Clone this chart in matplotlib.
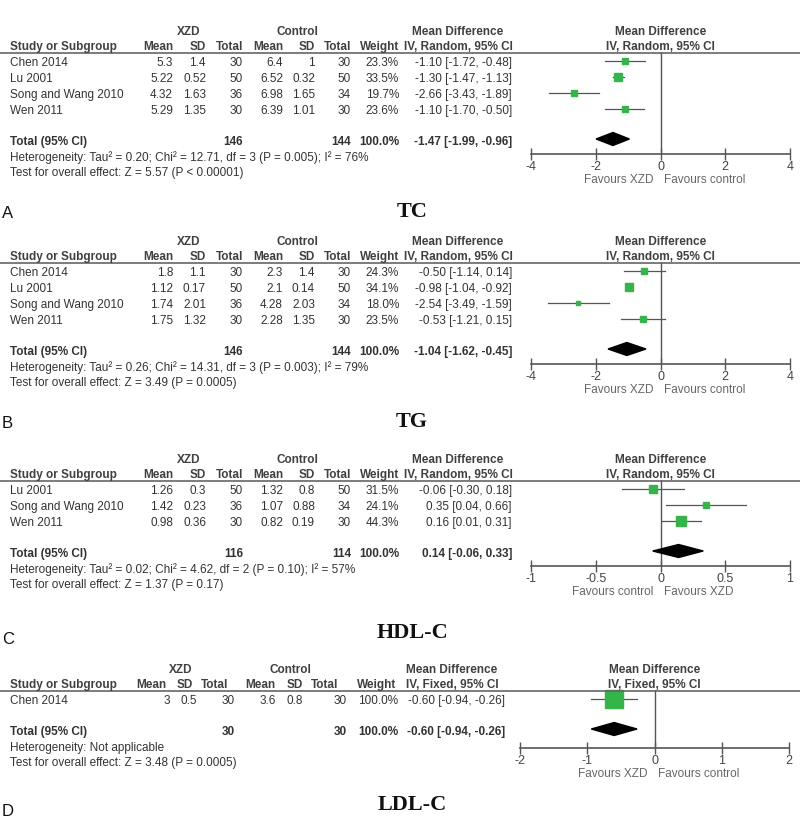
import matplotlib.pyplot as plt
from matplotlib.lines import Line2D
from matplotlib.patches import Polygon

plt.rcParams['font.family'] = ['Liberation Sans', 'DejaVu Sans']

# ---- data ----
# A: TC
tc_studies = ["Chen 2014", "Lu 2001", "Song and Wang 2010", "Wen 2011"]
tc_xzd_mean = [5.3, 5.22, 4.32, 5.29]
tc_xzd_sd = [1.4, 0.52, 1.63, 1.35]
tc_xzd_n = [30, 50, 36, 30]
tc_ctl_mean = [6.4, 6.52, 6.98, 6.39]
tc_ctl_sd = [1, 0.32, 1.65, 1.01]
tc_ctl_n = [30, 50, 34, 30]
tc_weight = [23.3, 33.5, 19.7, 23.6]
tc_md = [-1.10, -1.30, -2.66, -1.10]
tc_lo = [-1.72, -1.47, -3.43, -1.70]
tc_hi = [-0.48, -1.13, -1.89, -0.50]
tc_total = [146, 144, -1.47, -1.99, -0.96]
tc_het = "Heterogeneity: Tau² = 0.20; Chi² = 12.71, df = 3 (P = 0.005); I² = 76%"
tc_test = "Test for overall effect: Z = 5.57 (P < 0.00001)"

# B: TG
tg_studies = ["Chen 2014", "Lu 2001", "Song and Wang 2010", "Wen 2011"]
tg_xzd_mean = [1.8, 1.12, 1.74, 1.75]
tg_xzd_sd = [1.1, 0.17, 2.01, 1.32]
tg_xzd_n = [30, 50, 36, 30]
tg_ctl_mean = [2.3, 2.1, 4.28, 2.28]
tg_ctl_sd = [1.4, 0.14, 2.03, 1.35]
tg_ctl_n = [30, 50, 34, 30]
tg_weight = [24.3, 34.1, 18.0, 23.5]
tg_md = [-0.50, -0.98, -2.54, -0.53]
tg_lo = [-1.14, -1.04, -3.49, -1.21]
tg_hi = [0.14, -0.92, -1.59, 0.15]
tg_total = [146, 144, -1.04, -1.62, -0.45]
tg_het = "Heterogeneity: Tau² = 0.26; Chi² = 14.31, df = 3 (P = 0.003); I² = 79%"
tg_test = "Test for overall effect: Z = 3.49 (P = 0.0005)"

# C: HDL-C
hdl_studies = ["Lu 2001", "Song and Wang 2010", "Wen 2011"]
hdl_xzd_mean = [1.26, 1.42, 0.98]
hdl_xzd_sd = [0.3, 0.23, 0.36]
hdl_xzd_n = [50, 36, 30]
hdl_ctl_mean = [1.32, 1.07, 0.82]
hdl_ctl_sd = [0.8, 0.88, 0.19]
hdl_ctl_n = [50, 34, 30]
hdl_weight = [31.5, 24.1, 44.3]
hdl_md = [-0.06, 0.35, 0.16]
hdl_lo = [-0.30, 0.04, 0.01]
hdl_hi = [0.18, 0.66, 0.31]
hdl_total = [116, 114, 0.14, -0.06, 0.33]
hdl_het = "Heterogeneity: Tau² = 0.02; Chi² = 4.62, df = 2 (P = 0.10); I² = 57%"
hdl_test = "Test for overall effect: Z = 1.37 (P = 0.17)"

# D: LDL-C
ldl_studies = ["Chen 2014"]
ldl_xzd_mean = [3]
ldl_xzd_sd = [0.5]
ldl_xzd_n = [30]
ldl_ctl_mean = [3.6]
ldl_ctl_sd = [0.8]
ldl_ctl_n = [30]
ldl_weight = [100.0]
ldl_md = [-0.60]
ldl_lo = [-0.94]
ldl_hi = [-0.26]
ldl_total = [30, 30, -0.60, -0.94, -0.26]
ldl_het = "Heterogeneity: Not applicable"
ldl_test = "Test for overall effect: Z = 3.48 (P = 0.0005)"

tick_wide = [-4, -2, 0, 2, 4]
tick_hdl = [-1, -0.5, 0, 0.5, 1]
tick_ldl = [-2, -1, 0, 1, 2]

W, H = 800, 825
GREEN = '#33b54a'
TXT = '#333333'
HDR = '#404040'
GREY = '#555555'

fig = plt.figure(figsize=(8, 8.25), dpi=100)


def fx(x):
    return x / W


def fy(y):
    return 1 - y / H


def txt(x, y, s, ha='left', bold=False, color=TXT, size=8.5, family=None):
    fig.text(fx(x), fy(y), s, ha=ha, va='center', fontsize=size,
             fontweight='bold' if bold else 'normal', color=color,
             family=family)


def panel(letter, title, studies, m1, s1, n1, m2, s2, n2, wt, md, lo, hi,
          total, het, test, ticks, method, favours, lay):
    line_y = lay['line']
    cols = lay['cols']
    hcols = lay.get('hcols', cols)
    x0, x1 = lay['fx']
    axis_y = lay['axis']
    zero = x0 + (0 - ticks[0]) / (ticks[-1] - ticks[0]) * (x1 - x0)

    # header
    txt(lay['grp'][0], line_y - 20, "XZD", ha='center', bold=True, color=HDR)
    txt(lay['grp'][1], line_y - 20, "Control", ha='center', bold=True, color=HDR)
    txt(lay['grp'][2], line_y - 20, "Mean Difference", ha='center', bold=True, color=HDR)
    txt(zero, line_y - 20, "Mean Difference", ha='center', bold=True, color=HDR)
    txt(10, line_y - 5, "Study or Subgroup", bold=True, color=HDR)
    for c, h in zip(hcols[:7], ["Mean", "SD", "Total", "Mean", "SD", "Total", "Weight"]):
        txt(c, line_y - 5, h, ha='right', bold=True, color=HDR)
    txt(lay['grp'][2], line_y - 5, "IV, %s, 95%% CI" % method, ha='center', bold=True, color=HDR)
    txt(zero, line_y - 5, "IV, %s, 95%% CI" % method, ha='center', bold=True, color=HDR)
    fig.add_artist(Line2D([0, 1], [fy(line_y + 0.5)] * 2, color='#666666', lw=1.2))

    # forest axes, y in pixel rows
    ax = fig.add_axes([fx(x0), fy(axis_y), (x1 - x0) / W, (axis_y - line_y) / H])
    ax.set_xlim(ticks[0], ticks[-1])
    ax.set_ylim(axis_y, line_y)
    ax.patch.set_alpha(0)
    for s in ['top', 'left', 'right']:
        ax.spines[s].set_visible(False)
    ax.spines['bottom'].set_color(GREY)
    ax.spines['bottom'].set_linewidth(1.2)
    ax.set_yticks([])
    ax.set_xticks(ticks)
    ax.set_xticklabels(['%g' % t for t in ticks])
    ax.tick_params(axis='x', direction='inout', length=8, width=1, colors=GREY,
                   labelsize=9, labelcolor='#444444', pad=1)
    ax.axvline(0, color=GREY, lw=1)

    rows = [line_y + 11 + 16 * i for i in range(len(studies))]
    for i, y in enumerate(rows):
        vals = ['%g' % m1[i], '%g' % s1[i], '%d' % n1[i], '%g' % m2[i],
                '%g' % s2[i], '%d' % n2[i], '%.1f%%' % wt[i],
                '%.2f [%.2f, %.2f]' % (md[i], lo[i], hi[i])]
        txt(10, y, studies[i])
        for c, v in zip(cols, vals):
            txt(c, y, v, ha='right')
        ax.plot([lo[i], hi[i]], [y - 2, y - 2], color=GREY, lw=0.9, zorder=2)
        side = 2.0 + 0.165 * wt[i]
        ax.plot(md[i], y - 2, marker='s', ms=side * 0.72, color=GREEN,
                mec=GREEN, zorder=3, clip_on=False)

    ty = rows[-1] + 31
    txt(10, ty, "Total (95% CI)", bold=True)
    txt(cols[2], ty, '%d' % total[0], ha='right', bold=True)
    txt(cols[5], ty, '%d' % total[1], ha='right', bold=True)
    txt(cols[6], ty, "100.0%", ha='right', bold=True)
    txt(cols[7], ty, '%.2f [%.2f, %.2f]' % tuple(total[2:]), ha='right', bold=True)
    dy = ty - 3
    ax.add_patch(Polygon([[total[3], dy], [total[2], dy - 6.5], [total[4], dy],
                          [total[2], dy + 6.5]], closed=True, color='black', zorder=3))
    txt(10, ty + 16, het)
    txt(10, ty + 31, test)

    txt(zero - 7, axis_y + 26, favours[0], ha='right', color='#666666')
    txt(zero + 4, axis_y + 26, favours[1], ha='left', color='#666666')

    txt(2, lay['letter'], letter, size=12, color='#111111')
    txt(412, lay['title'], title, ha='center', bold=True, size=16, color='#111111',
        family=['Liberation Serif', 'DejaVu Serif'])


cols_abc = [173, 206, 243, 283, 315, 351, 399, 512]
cols_d = [170, 197, 235, 276, 303, 347, 398, 505]
hcols_d = [166, 193, 228, 275, 303, 338, 396]

panel("A", "TC", tc_studies, tc_xzd_mean, tc_xzd_sd, tc_xzd_n, tc_ctl_mean,
      tc_ctl_sd, tc_ctl_n, tc_weight, tc_md, tc_lo, tc_hi, tc_total, tc_het,
      tc_test, tick_wide, "Random", ("Favours XZD", "Favours control"),
      dict(line=52, axis=154, cols=cols_abc, grp=(189, 297, 458),
           fx=(531, 790), letter=213, title=212))
panel("B", "TG", tg_studies, tg_xzd_mean, tg_xzd_sd, tg_xzd_n, tg_ctl_mean,
      tg_ctl_sd, tg_ctl_n, tg_weight, tg_md, tg_lo, tg_hi, tg_total, tg_het,
      tg_test, tick_wide, "Random", ("Favours XZD", "Favours control"),
      dict(line=262, axis=364, cols=cols_abc, grp=(189, 297, 458),
           fx=(531, 790), letter=423, title=422))
panel("C", "HDL-C", hdl_studies, hdl_xzd_mean, hdl_xzd_sd, hdl_xzd_n,
      hdl_ctl_mean, hdl_ctl_sd, hdl_ctl_n, hdl_weight, hdl_md, hdl_lo, hdl_hi,
      hdl_total, hdl_het, hdl_test, tick_hdl, "Random",
      ("Favours control", "Favours XZD"),
      dict(line=480, axis=566, cols=cols_abc, grp=(189, 297, 458),
           fx=(531, 790), letter=639, title=633))
panel("D", "LDL-C", ldl_studies, ldl_xzd_mean, ldl_xzd_sd, ldl_xzd_n,
      ldl_ctl_mean, ldl_ctl_sd, ldl_ctl_n, ldl_weight, ldl_md, ldl_lo, ldl_hi,
      ldl_total, ldl_het, ldl_test, tick_ldl, "Fixed",
      ("Favours XZD", "Favours control"),
      dict(line=690, axis=748, cols=cols_d, hcols=hcols_d, grp=(181, 290, 452),
           fx=(520, 789), letter=812, title=805))

fig.savefig("out.png", dpi=100)
